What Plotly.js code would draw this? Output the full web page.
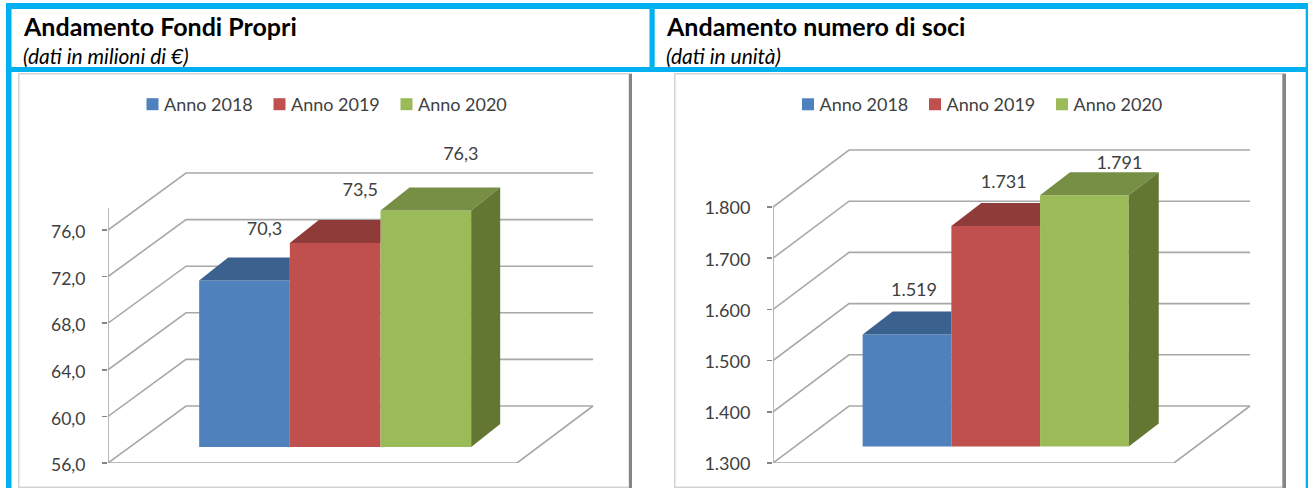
<!DOCTYPE html>
<html>
<head>
<meta charset="utf-8">
<script src="https://cdn.plot.ly/plotly-3.0.1.min.js"></script>
<style>html,body{margin:0;padding:0;background:#fff;overflow:hidden}</style>
</head>
<body>
<div id="chart" style="width:1308px;height:488px"></div>
<script>
const W = 1308, H = 488;

const categories = ['Anno 2018', 'Anno 2019', 'Anno 2020'];
const fondiValues = [70.3, 73.5, 76.3];
const fondiLabels = ['70,3', '73,5', '76,3'];
const fondiTicks = [56, 60, 64, 68, 72, 76];
const fondiTickLabels = ['56,0', '60,0', '64,0', '68,0', '72,0', '76,0'];
const sociValues = [1519, 1731, 1791];
const sociLabels = ['1.519', '1.731', '1.791'];
const sociTicks = [1300, 1400, 1500, 1600, 1700, 1800];
const sociTickLabels = ['1.300', '1.400', '1.500', '1.600', '1.700', '1.800'];

const frontColors = ['#4F81BD', '#C0504D', '#9BBB59'];
const topColors = ['#3B618E', '#8F3B39', '#768F44'];
const sideColors = ['#375A85', '#833634', '#637733'];
const gridColor = '#A8A8A8';
const textColor = '#404040';
const font = 'Lato, sans-serif';

const px = v => v / W;
const py = v => 1 - v / H;

const left = {
  xa: 'x', ya: 'y', yb: 'y2', legend: 'legend',
  values: fondiValues, labels: fondiLabels, ticks: fondiTicks, tickLabels: fondiTickLabels,
  axisX: 108, axisTop: 208, domainRight: 605, domainTop: 120, front0: 463, unit: 11.65,
  barCentre: 244.5, barW: 90.67, barBase: 447, ddx: 29, ddy: 23,
  backDx: 78, backDy: 57, floorRight: 517, floorBackRight: 593, tickSize: 17.5, tickShift: 2,
  labelDx: [20, 25, 35], labelDy: [-50, -52, -55]
};
const right = {
  xa: 'x2', ya: 'y3', yb: 'y4', legend: 'legend2',
  values: sociValues, labels: sociLabels, ticks: sociTicks, tickLabels: sociTickLabels,
  axisX: 773, axisTop: 207, domainRight: 1262, domainTop: 120, front0: 463, unit: 0.512,
  barCentre: 907, barW: 88.7, barBase: 446.6, ddx: 30, ddy: 23,
  backDx: 76, backDy: 57, floorRight: 1174, floorBackRight: 1250, tickSize: 18, tickShift: 1,
  labelDx: [7, 8, 35], labelDy: [-43, -42, -31]
};

function axesFor(c) {
  const min = c.ticks[0];
  const xOf = p => (p - c.barCentre) / c.barW;
  const axis = {
    domain: [px(c.axisX), px(c.domainRight)],
    range: [xOf(c.axisX), xOf(c.domainRight)],
    visible: false, fixedrange: true
  };
  const front = {
    domain: [py(c.front0), py(c.domainTop)],
    range: [min, min + (c.front0 - c.domainTop) / c.unit],
    anchor: c.xa, tickmode: 'array', tickvals: c.ticks, ticktext: c.tickLabels,
    ticks: 'outside', ticklen: 5, tickcolor: '#868686', tickwidth: 1.5,
    ticklabelstandoff: 13, ticklabelshift: c.tickShift, showgrid: false, zeroline: false, showline: false,
    tickfont: {family: font, size: c.tickSize, color: textColor}, fixedrange: true
  };
  const plane = {
    domain: [py(c.barBase), py(c.domainTop)],
    range: [min, min + (c.barBase - c.domainTop) / c.unit],
    anchor: c.xa, visible: false, fixedrange: true
  };
  return {axis, front, plane};
}

function tracesFor(c) {
  const min = c.ticks[0];
  const xOf = p => (p - c.barCentre) / c.barW;
  const traces = [];
  const x0 = xOf(c.axisX), xb = xOf(c.axisX + c.backDx);
  const xr = xOf(c.floorRight), xbr = xOf(c.floorBackRight);
  const dv = c.backDy / c.unit;
  const gx = [], gy = [];
  c.ticks.forEach(t => { gx.push(x0, xb, xbr, null); gy.push(t, t + dv, t + dv, null); });
  gx.push(x0, xr, xbr, null); gy.push(min, min, min + dv, null);
  const axisTopVal = min + (c.front0 - c.axisTop) / c.unit;
  traces.push({type: 'scatter', mode: 'lines', x: gx, y: gy, xaxis: c.xa, yaxis: c.ya,
    line: {color: gridColor, width: 1.6}, showlegend: false, hoverinfo: 'skip', cliponaxis: false});
  traces.push({type: 'scatter', mode: 'lines', x: [x0, x0], y: [min, axisTopVal], xaxis: c.xa, yaxis: c.ya,
    line: {color: gridColor, width: 1.6}, showlegend: false, hoverinfo: 'skip', cliponaxis: false});

  const dx = c.ddx / c.barW, dy = c.ddy / c.unit;
  c.values.forEach((v, i) => {
    traces.push({type: 'bar', name: categories[i], x: [i], y: [v], width: 1,
      xaxis: c.xa, yaxis: c.yb, legend: c.legend,
      marker: {color: frontColors[i], line: {width: 0}}, hovertemplate: categories[i] + ': ' + c.labels[i] + '<extra></extra>'});
  });
  c.values.forEach((v, i) => {
    const taller = i < c.values.length - 1 && c.values[i + 1] > v;
    const back = taller ? i + 0.5 : i + 0.5 + dx;
    traces.push({type: 'scatter', mode: 'lines', fill: 'toself', fillcolor: topColors[i],
      x: [i - 0.5, i - 0.5 + dx, back, i + 0.5, i - 0.5], y: [v, v + dy, v + dy, v, v],
      xaxis: c.xa, yaxis: c.yb, line: {width: 0, color: topColors[i]}, showlegend: false, hoverinfo: 'skip', cliponaxis: false});
    if (!taller) {
      traces.push({type: 'scatter', mode: 'lines', fill: 'toself', fillcolor: sideColors[i],
        x: [i + 0.5, i + 0.5 + dx, i + 0.5 + dx, i + 0.5, i + 0.5], y: [min, min + dy, v + dy, v, min],
        xaxis: c.xa, yaxis: c.yb, line: {width: 0, color: sideColors[i]}, showlegend: false, hoverinfo: 'skip', cliponaxis: false});
    }
  });
  traces.push({type: 'scatter', mode: 'text',
    x: c.values.map((v, i) => i + c.labelDx[i] / c.barW),
    y: c.values.map((v, i) => v - c.labelDy[i] / c.unit),
    text: c.labels, textposition: 'middle center',
    textfont: {family: font, size: 18, color: textColor},
    xaxis: c.xa, yaxis: c.yb, showlegend: false, hoverinfo: 'skip', cliponaxis: false});
  return traces;
}

const blue = '#00B0F0';
const rect = (x0, y0, x1, y1, fill) => ({type: 'rect', xref: 'paper', yref: 'paper', layer: 'below',
  x0: px(x0), x1: px(x1), y0: py(y0), y1: py(y1), fillcolor: fill, line: {width: 0}});
const shapes = [
  rect(6, 3, 1308, 9, blue),
  rect(6, 67, 1308, 72, blue),
  rect(6, 3, 11.5, 488, blue),
  rect(649.5, 3, 654.7, 72, blue),
  rect(1305.7, 3, 1308, 488, blue),
  // chart frames
  rect(18, 73, 632, 488, '#D2D2D2'),
  rect(19.5, 74.5, 628.5, 486.5, '#FFFFFF'),
  rect(629, 74, 632, 488, '#858585'),
  rect(674, 73, 1286, 488, '#D2D2D2'),
  rect(675.5, 74.5, 1282, 486.5, '#FFFFFF'),
  rect(1282.5, 74, 1286, 488, '#858585')
];

const ann = (x, y, text, size, extra) => Object.assign({xref: 'paper', yref: 'paper', x: px(x), y: py(y),
  xanchor: 'left', yanchor: 'middle', showarrow: false, text: text, align: 'left',
  font: {family: font, size: size, color: '#000000'}}, extra || {});
const annotations = [
  ann(21, 26, '<b>Andamento Fondi Propri</b>', 25),
  ann(21, 55, '<i>(dati in milioni di €)</i>', 21),
  ann(664, 26, '<b>Andamento numero di soci</b>', 25),
  ann(664, 55, '<i>(dati in unità)</i>', 21)
];

const A = axesFor(left), B = axesFor(right);
const legendBase = {orientation: 'h', xanchor: 'left', yanchor: 'top', y: py(86),
  bgcolor: 'rgba(0,0,0,0)', borderwidth: 0, indentation: -15, entrywidth: 97, entrywidthmode: 'pixels',
  traceorder: 'normal', font: {family: font, size: 18, color: textColor}};
const layout = {
  width: W, height: H, margin: {l: 0, r: 0, t: 0, b: 0, pad: 0},
  paper_bgcolor: '#FFFFFF', plot_bgcolor: 'rgba(0,0,0,0)',
  barmode: 'overlay', showlegend: true, hovermode: 'closest',
  xaxis: A.axis, yaxis: A.front, yaxis2: A.plane,
  xaxis2: B.axis, yaxis3: B.front, yaxis4: B.plane,
  legend: Object.assign({}, legendBase, {x: px(139)}),
  legend2: Object.assign({}, legendBase, {x: px(794.5)}),
  shapes, annotations
};
Plotly.newPlot('chart', tracesFor(left).concat(tracesFor(right)), layout, {displayModeBar: false, staticPlot: true}).then(gd => {
  // legend swatches sit right next to their labels in the reference
  gd.querySelectorAll('.legendsymbols').forEach(g => g.setAttribute('transform', 'translate(8.5,0)'));
});
</script>
</body>
</html>
